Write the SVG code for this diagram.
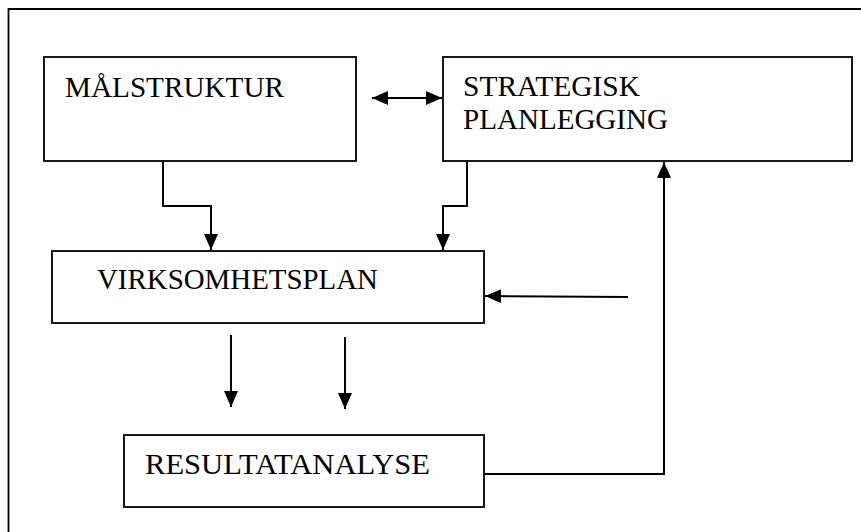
<svg xmlns="http://www.w3.org/2000/svg" width="861" height="532" viewBox="0 0 861 532">
<style>
.box{fill:#fff;stroke:#000;stroke-width:1.8}
.lbl{font-family:"Liberation Serif","Times New Roman",serif;font-size:29px;fill:#000}
.con{fill:none;stroke:#000;stroke-width:2}
</style>
<defs>
<marker id="ah" viewBox="0 0 16 14" refX="16" refY="7" markerWidth="16" markerHeight="14" markerUnits="userSpaceOnUse" orient="auto-start-reverse">
<path d="M0,0 L16,7 L0,14 Z" fill="#000"/>
</marker>
</defs>
<rect width="861" height="532" fill="#fff"/>
<path d="M8.5,540 V9 H870" fill="none" stroke="#000" stroke-width="1.8"/>
<g id="malstruktur">
<rect class="box" x="44" y="57" width="312" height="104"/>
<text class="lbl" x="65" y="97" textLength="219" lengthAdjust="spacingAndGlyphs">MÅLSTRUKTUR</text>
</g>
<g id="strategisk">
<rect class="box" x="443" y="57" width="409" height="104"/>
<text class="lbl" x="463" y="96" textLength="177" lengthAdjust="spacingAndGlyphs">STRATEGISK</text>
<text class="lbl" x="463" y="129" textLength="205" lengthAdjust="spacingAndGlyphs">PLANLEGGING</text>
</g>
<g id="virksomhetsplan">
<rect class="box" x="52" y="251" width="432" height="72"/>
<text class="lbl" x="97" y="289" textLength="281" lengthAdjust="spacingAndGlyphs">VIRKSOMHETSPLAN</text>
</g>
<g id="resultatanalyse">
<rect class="box" x="124" y="435" width="360" height="72"/>
<text class="lbl" x="145" y="474" textLength="285" lengthAdjust="spacingAndGlyphs">RESULTATANALYSE</text>
</g>
<g id="connectors">
<line class="con" x1="372" y1="98" x2="442" y2="98" marker-start="url(#ah)" marker-end="url(#ah)"/>
<path class="con" d="M163,161 V206 H211 V250" marker-end="url(#ah)"/>
<path class="con" d="M467,161 V206 H443 V250" marker-end="url(#ah)"/>
<line class="con" x1="628" y1="297" x2="485" y2="296" marker-end="url(#ah)"/>
<path class="con" d="M484,474 H664 V162" marker-end="url(#ah)"/>
<line class="con" x1="231" y1="335" x2="231" y2="407" marker-end="url(#ah)"/>
<line class="con" x1="345" y1="337" x2="345" y2="409" marker-end="url(#ah)"/>
</g>
</svg>
